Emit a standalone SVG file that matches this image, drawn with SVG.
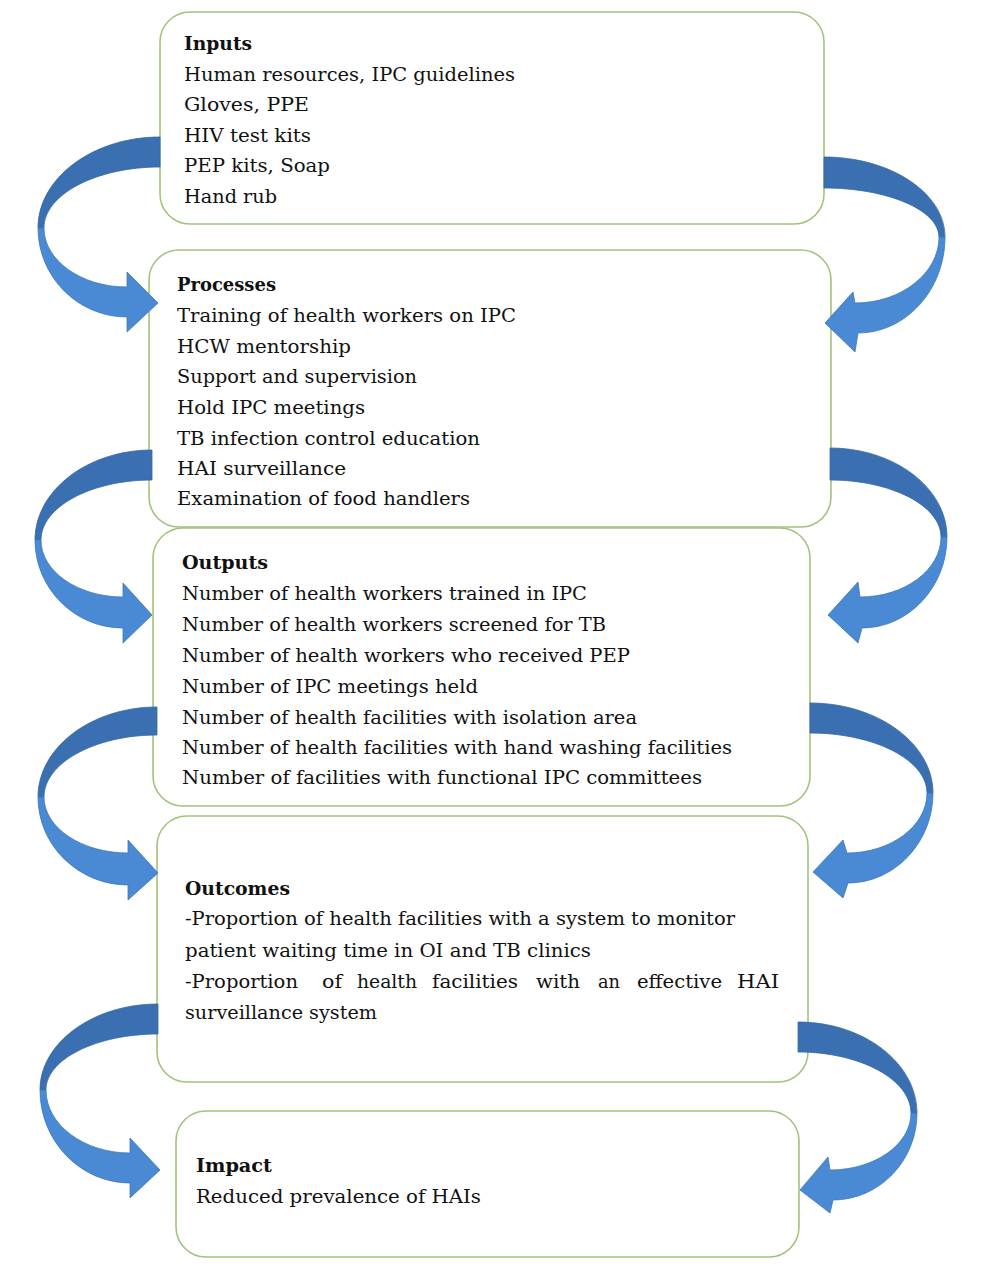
<svg xmlns="http://www.w3.org/2000/svg" width="1004" height="1270" viewBox="0 0 1004 1270">
<style>
.box{fill:#ffffff;stroke:#a3c27a;stroke-width:1.6}
.t{font-family:"DejaVu Serif","Liberation Serif",serif;font-size:18.5px;fill:#111111}
.h{font-weight:bold}
.dk{fill:#3a70b2;stroke:#35679f;stroke-width:0.8}
.lt{fill:#4a89d3;stroke:#3f78b8;stroke-width:0.8}
</style>
<rect x="0" y="0" width="1004" height="1270" fill="#ffffff"/>

<g id="inputs">
<rect class="box" x="160" y="12" width="664" height="212" rx="30" ry="30"/>
<text class="t h" x="184" y="50" textLength="68" lengthAdjust="spacingAndGlyphs">Inputs</text>
<text class="t" x="184" y="81" textLength="331" lengthAdjust="spacingAndGlyphs">Human resources, IPC guidelines</text>
<text class="t" x="184" y="111" textLength="125" lengthAdjust="spacingAndGlyphs">Gloves, PPE</text>
<text class="t" x="184" y="142" textLength="127" lengthAdjust="spacingAndGlyphs">HIV test kits</text>
<text class="t" x="184" y="172" textLength="146" lengthAdjust="spacingAndGlyphs">PEP kits, Soap</text>
<text class="t" x="184" y="203" textLength="93" lengthAdjust="spacingAndGlyphs">Hand rub</text>
</g>

<g id="processes">
<rect class="box" x="149" y="250" width="682" height="277" rx="30" ry="30"/>
<text class="t h" x="177" y="291" textLength="99" lengthAdjust="spacingAndGlyphs">Processes</text>
<text class="t" x="177" y="322" textLength="339" lengthAdjust="spacingAndGlyphs">Training of health workers on IPC</text>
<text class="t" x="177" y="353" textLength="174" lengthAdjust="spacingAndGlyphs">HCW mentorship</text>
<text class="t" x="177" y="383" textLength="240" lengthAdjust="spacingAndGlyphs">Support and supervision</text>
<text class="t" x="177" y="414" textLength="188" lengthAdjust="spacingAndGlyphs">Hold IPC meetings</text>
<text class="t" x="177" y="445" textLength="303" lengthAdjust="spacingAndGlyphs">TB infection control education</text>
<text class="t" x="177" y="475" textLength="169" lengthAdjust="spacingAndGlyphs">HAI surveillance</text>
<text class="t" x="177" y="505" textLength="293" lengthAdjust="spacingAndGlyphs">Examination of food handlers</text>
</g>

<g id="outputs">
<rect class="box" x="153" y="528" width="657" height="278" rx="30" ry="30"/>
<text class="t h" x="182" y="569" textLength="86" lengthAdjust="spacingAndGlyphs">Outputs</text>
<text class="t" x="182" y="600" textLength="405" lengthAdjust="spacingAndGlyphs">Number of health workers trained in IPC</text>
<text class="t" x="182" y="631" textLength="424" lengthAdjust="spacingAndGlyphs">Number of health workers screened for TB</text>
<text class="t" x="182" y="662" textLength="448" lengthAdjust="spacingAndGlyphs">Number of health workers who received PEP</text>
<text class="t" x="182" y="693" textLength="296" lengthAdjust="spacingAndGlyphs">Number of IPC meetings held</text>
<text class="t" x="182" y="724" textLength="455" lengthAdjust="spacingAndGlyphs">Number of health facilities with isolation area</text>
<text class="t" x="182" y="754" textLength="550" lengthAdjust="spacingAndGlyphs">Number of health facilities with hand washing facilities</text>
<text class="t" x="182" y="784" textLength="520" lengthAdjust="spacingAndGlyphs">Number of facilities with functional IPC committees</text>
</g>

<g id="outcomes">
<rect class="box" x="157" y="816" width="651" height="266" rx="30" ry="30"/>
<text class="t h" x="185" y="895" textLength="105" lengthAdjust="spacingAndGlyphs">Outcomes</text>
<text class="t" x="185" y="925" textLength="550" lengthAdjust="spacingAndGlyphs">-Proportion of health facilities with a system to monitor</text>
<text class="t" x="185" y="957" textLength="406" lengthAdjust="spacingAndGlyphs">patient waiting time in OI and TB clinics</text>
<text class="t" x="185" y="988" textLength="113" lengthAdjust="spacingAndGlyphs">-Proportion</text>
<text class="t" x="322" y="988" textLength="20" lengthAdjust="spacingAndGlyphs">of</text>
<text class="t" x="357" y="988" textLength="60" lengthAdjust="spacingAndGlyphs">health</text>
<text class="t" x="432" y="988" textLength="86" lengthAdjust="spacingAndGlyphs">facilities</text>
<text class="t" x="536" y="988" textLength="44" lengthAdjust="spacingAndGlyphs">with</text>
<text class="t" x="598" y="988" textLength="22" lengthAdjust="spacingAndGlyphs">an</text>
<text class="t" x="637" y="988" textLength="85" lengthAdjust="spacingAndGlyphs">effective</text>
<text class="t" x="737" y="988" textLength="42" lengthAdjust="spacingAndGlyphs">HAI</text>
<text class="t" x="185" y="1019" textLength="192" lengthAdjust="spacingAndGlyphs">surveillance system</text>
</g>

<g id="impact">
<rect class="box" x="176" y="1111" width="623" height="146" rx="30" ry="30"/>
<text class="t h" x="196" y="1172" textLength="76" lengthAdjust="spacingAndGlyphs">Impact</text>
<text class="t" x="196" y="1203" textLength="285" lengthAdjust="spacingAndGlyphs">Reduced prevalence of HAIs</text>
</g>

<g id="connectors">
<path class="dk" d="M160,137 C92.9,137 38,178 38,228 L44,228 C44,194.5 96.2,167 160,167 Z"/>
<path class="lt" d="M38,228 C38,277 78,317 127,317 L127,332 L158,303 L127,272 L127,287 C81.4,287 44,260.5 44,228 Z"/>

<path class="dk" d="M152,450 C87.6,450 35,490.5 35,540 L41,540 C41,507 91,480 152,480 Z"/>
<path class="lt" d="M35,540 C35,588.4 74.6,628 123,628 L123,643 L152,615 L123,583 L123,597 C77.9,597 41,571.4 41,540 Z"/>

<path class="dk" d="M157,707 C91.5,707 38,747.5 38,797 L44,797 C44,763 94.9,735 157,735 Z"/>
<path class="lt" d="M38,797 C38,845.4 78.5,885 128,885 L128,900 L158,873 L128,840 L128,853 C81.8,853 44,827.8 44,797 Z"/>

<path class="dk" d="M158,1004 C93.1,1004 40,1042.7 40,1090 L46,1090 C46,1059.2 96.4,1034 158,1034 Z"/>
<path class="lt" d="M40,1090 C40,1141.2 80.5,1183 130,1183 L130,1198 L160,1170 L130,1138 L130,1153 C83.8,1153 46,1124.7 46,1090 Z"/>

<path class="dk" d="M824,157 C890.6,157 945,193 945,237 L939,237 C939,210 887.3,188 824,188 Z"/>
<path class="lt" d="M945,237 C945,289.8 905.9,333 858,333 L855,352 L825,323 L853,292 L855,303 C901.2,303 939,273.3 939,237 Z"/>

<path class="dk" d="M830,448 C894.4,448 947,488 947,537 L941,537 C941,505.7 891,480 830,480 Z"/>
<path class="lt" d="M947,537 C947,587 908.8,628 862,628 L858,643 L828,615 L858,582 L860,597 C904.6,597 941,570 941,537 Z"/>

<path class="dk" d="M810,703 C877.7,703 933,743.5 933,793 L927,793 C927,760 874.4,733 810,733 Z"/>
<path class="lt" d="M933,793 C933,842.5 894.8,883 848,883 L843,898 L813,872 L843,840 L847,853 C891,853 927,826 927,793 Z"/>

<path class="dk" d="M798,1022 C863.5,1022 917,1063 917,1113 L911,1113 C911,1079.5 860.2,1052 798,1052 Z"/>
<path class="lt" d="M917,1113 C917,1160.9 879.2,1200 833,1200 L830,1213 L800,1190 L828,1157 L830,1170 C874.6,1170 911,1144.4 911,1113 Z"/>
</g>
</svg>
